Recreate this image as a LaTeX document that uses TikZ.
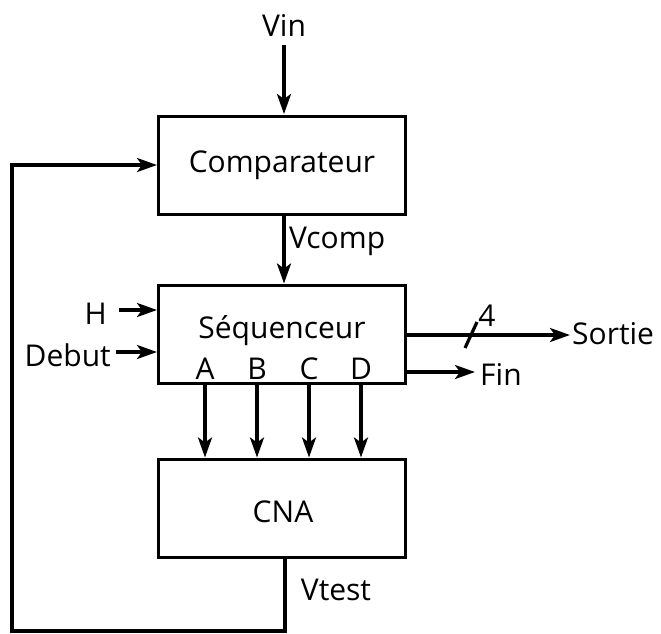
\documentclass[tikz,border=0pt]{standalone}
\usepackage{fontspec}
\setmainfont{Open Sans}
\usetikzlibrary{arrows.meta}
\begin{document}
\begin{tikzpicture}[x=1pt,y=-1pt,
  every node/.style={font=\fontsize{30}{36}\selectfont, inner sep=0pt},
  blk/.style={draw, line width=3pt, minimum width=247pt, minimum height=98pt},
  wire/.style={line width=3.2pt},
  arr/.style={wire, -{Stealth[length=20pt,width=14pt,inset=5pt]}}]
\useasboundingbox (0,0) rectangle (661,633);
% boxes
\node[blk] (comp) at (282,165) {};
\node at (282,165) {Comparateur};
\node[blk] (seq) at (282,334) {};
\node at (282,331) {Séquenceur};
\node[blk] (cna) at (282,508) {};
\node at (283,512) {CNA};
% labels
\node (vin) at (284,25) {Vin};
\node[anchor=west] (vcomp) at (289,241) {Vcomp};
\node[anchor=east] (h) at (107,314) {H};
\node[anchor=east] (debut) at (111,355) {Debut};
\node[anchor=west] (sortie) at (572,334) {Sortie};
\node[anchor=west] (fin) at (480,374) {Fin};
\node (four) at (487,316) {4};
\node (vtest) at (336,590) {Vtest};
\node (la) at (205,369) {A};
\node (lb) at (257,369) {B};
\node (lc) at (309,369) {C};
\node (ld) at (361,369) {D};
\coordinate (bl) at (12,631);
% connectors
\draw[arr] (284,45) -- (284,114);
\draw[arr] (comp.south -| vin) -- (seq.north -| vin);
\draw[arr] ([xshift=12pt,yshift=4pt]h.east) -- ([yshift=4pt]h.east -| seq.west);
\draw[arr] ([xshift=5pt,yshift=3pt]debut.east) -- ([yshift=3pt]debut.east -| seq.west);
\draw[arr] (seq.east |- 0,335) -- ([xshift=-2pt]sortie.west |- 0,335);
\draw[wire] (465,348) -- (477,322);
\draw[arr] (seq.east |- 0,372) -- ([xshift=-5pt]fin.west |- 0,372);
\foreach \n in {la,lb,lc,ld}{
  \draw[arr] (seq.south -| \n) -- (cna.north -| \n);
}
\draw[arr] (cna.south -| 285,0) |- (bl) |- (comp.west);
\end{tikzpicture}
\end{document}
